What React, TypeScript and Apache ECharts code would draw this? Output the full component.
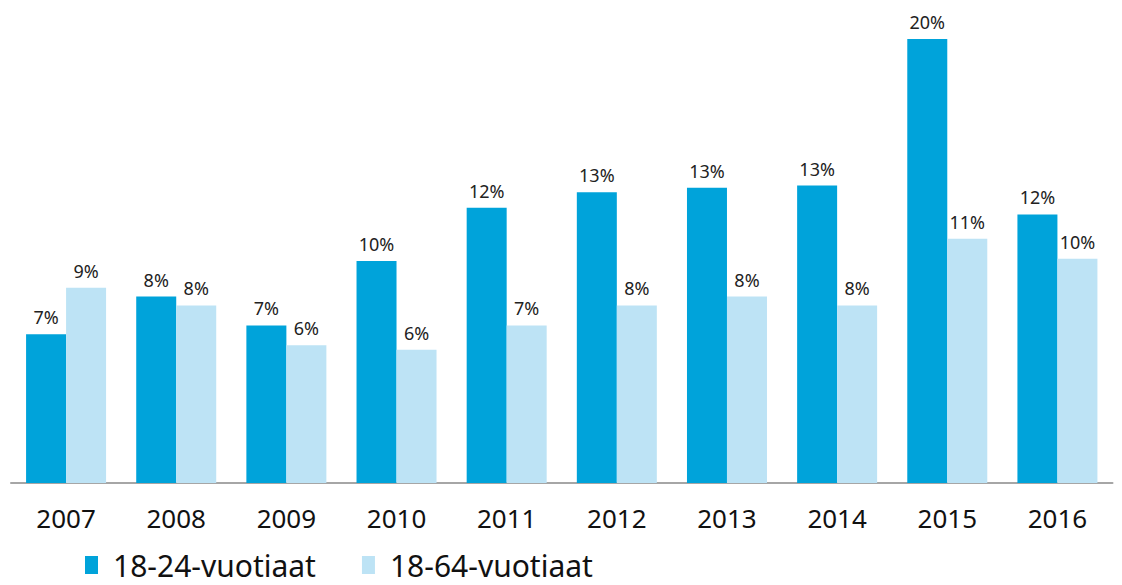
import React, { useEffect, useRef } from "react";
import * as echarts from "echarts";

const years = ["2007", "2008", "2009", "2010", "2011", "2012", "2013", "2014", "2015", "2016"];
const young = [6.7, 8.4, 7.1, 10.0, 12.4, 13.1, 13.3, 13.4, 20.0, 12.1];
const all = [8.8, 8.0, 6.2, 6.0, 7.1, 8.0, 8.4, 8.0, 11.0, 10.1];
const seriesNames = ["18-24-vuotiaat", "18-64-vuotiaat"];
const colors = ["#00A3DA", "#BDE3F5"];

const FONT = "'Noto Sans', sans-serif";

export default function App() {
  const ref = useRef<HTMLDivElement>(null);
  useEffect(() => {
    const chart = echarts.init(ref.current!, null, { renderer: "svg" });
    const label = {
      show: true,
      position: "top" as const,
      distance: 8,
      color: "#222",
      fontFamily: FONT,
      fontSize: 18,
      formatter: (p: any) => Math.round(p.value) + "%",
    };
    chart.setOption({
      animation: false,
      grid: { left: 11, right: 9.5, top: 39, bottom: 102, containLabel: false },
      legend: {
        left: 80,
        top: 543,
        itemWidth: 13,
        itemHeight: 18,
        itemGap: 46,
        icon: "rect",
        textStyle: { fontFamily: FONT, fontSize: 30, lineHeight: 34, color: "#111", padding: [0, 0, 0, 10] },
        data: seriesNames,
      },
      xAxis: {
        type: "category",
        data: years,
        axisLine: { lineStyle: { color: "#A6A6A6", width: 2 } },
        axisTick: { show: false },
        axisLabel: { fontFamily: FONT, fontSize: 26, color: "#111", margin: 22 },
      },
      yAxis: {
        type: "value",
        min: 0,
        max: 20,
        show: false,
        splitLine: { show: false },
      },
      series: [
        {
          name: seriesNames[0],
          type: "bar",
          data: young,
          barWidth: 40,
          barGap: "0%",
          itemStyle: { color: colors[0] },
          label,
        },
        {
          name: seriesNames[1],
          type: "bar",
          data: all,
          barWidth: 40,
          barGap: "0%",
          itemStyle: { color: colors[1] },
          label,
        },
      ],
    });
    return () => chart.dispose();
  }, []);
  return (
    <div
      ref={ref}
      style={{ position: "fixed", left: 0, top: 0, width: 1122, height: 585, background: "#fff" }}
    />
  );
}
